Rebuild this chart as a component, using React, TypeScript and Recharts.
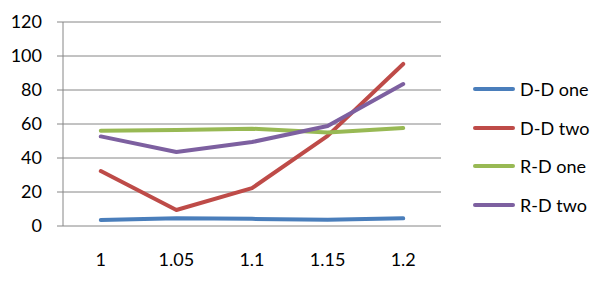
import { LineChart, Line, CartesianGrid, XAxis, YAxis } from "recharts";

const xValues = [1, 1.05, 1.1, 1.15, 1.2];
const xBounds = [0.975, 1.025, 1.075, 1.125, 1.175, 1.225];
const yTicks = [0, 20, 40, 60, 80, 100, 120];

const ddOne = [3.5, 4.5, 4.2, 3.7, 4.5];
const ddTwo = [32.3, 9.4, 22.3, 53, 95.3];
const rdOne = [56, 56.5, 57.2, 55, 57.6];
const rdTwo = [52.7, 43.5, 49.4, 58.8, 83.5];

const series = [
  { key: "ddOne", label: "D-D one", color: "#4A7EBB" },
  { key: "ddTwo", label: "D-D two", color: "#BE4B48" },
  { key: "rdOne", label: "R-D one", color: "#98B954" },
  { key: "rdTwo", label: "R-D two", color: "#7D60A0" },
];

const data = xValues.map((x, i) => ({
  x,
  ddOne: ddOne[i],
  ddTwo: ddTwo[i],
  rdOne: rdOne[i],
  rdTwo: rdTwo[i],
}));

const font = "Lato, 'Open Sans', sans-serif";
const tickStyle = { fontSize: 18, fill: "#000", fontFamily: font };
const axisGray = "#868686";

function LegendBox() {
  return (
    <div
      style={{
        position: "absolute",
        left: 473,
        top: 70,
        width: 127,
        fontFamily: font,
        fontSize: 18,
        color: "#000",
      }}
    >
      {series.map((s) => (
        <div key={s.key} style={{ display: "flex", alignItems: "center", height: 38.6 }}>
          <span
            style={{
              width: 42,
              height: 0,
              borderTop: `4px solid ${s.color}`,
              borderRadius: 2,
              display: "inline-block",
              marginRight: 5,
            }}
          />
          <span>{s.label}</span>
        </div>
      ))}
    </div>
  );
}

export default function App() {
  return (
    <div style={{ position: "absolute", left: 0, top: 0, width: 600, height: 281, background: "#fff" }}>
      <LineChart width={600} height={281} data={data} margin={{ top: 22, right: 159, left: 0, bottom: 0 }}>
        <CartesianGrid stroke={axisGray} vertical={false} />
        <XAxis
          xAxisId="b"
          dataKey="x"
          type="number"
          domain={[0.975, 1.225]}
          ticks={xBounds}
          tickFormatter={() => ""}
          tickSize={6}
          height={0}
          stroke={axisGray}
          interval={0}
          allowDataOverflow
        />
        <XAxis
          dataKey="x"
          type="number"
          domain={[0.975, 1.225]}
          ticks={xValues}
          tick={tickStyle}
          axisLine={false}
          tickLine={false}
          tickSize={0}
          tickMargin={27}
          height={55}
          interval={0}
        />
        <YAxis
          domain={[0, 120]}
          ticks={yTicks}
          tick={tickStyle}
          width={63}
          tickSize={6}
          tickMargin={15}
          stroke={axisGray}
          interval={0}
        />
        {series.map((s) => (
          <Line
            key={s.key}
            type="linear"
            dataKey={s.key}
            name={s.label}
            stroke={s.color}
            strokeWidth={4}
            strokeLinecap="round"
            strokeLinejoin="round"
            dot={false}
            activeDot={false}
            isAnimationActive={false}
          />
        ))}
      </LineChart>
      <LegendBox />
    </div>
  );
}
